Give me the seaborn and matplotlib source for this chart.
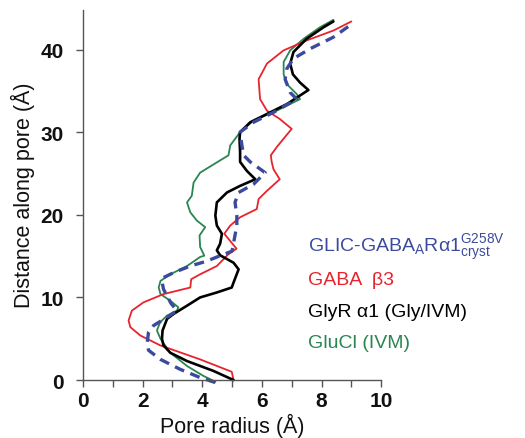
import matplotlib
matplotlib.use("Agg")
import matplotlib.pyplot as plt
import seaborn as sns
import pandas as pd

# ---- data (pore radius x, distance along pore y) ----
glic_x = [4.44, 3.93, 3.26, 2.60, 2.20, 2.15, 2.20, 2.37, 2.82, 3.15, 2.95, 2.70, 2.65, 2.70, 3.04, 3.60, 4.16, 4.60, 5.00,
          5.16, 5.16, 5.10, 5.22, 5.72, 6.11, 5.61, 5.39, 5.33, 5.27, 5.72, 6.39, 7.17, 6.95, 6.78, 6.84, 7.06, 7.62, 8.40, 9.02]
glic_y = [-0.3, 0.3, 1.3, 2.5, 3.6, 4.4, 5.8, 6.6, 7.6, 8.4, 9.3, 11.0, 12.0, 12.4, 13.0, 13.8, 14.4, 15.05, 15.6,
          18.7, 19.9, 21.5, 22.7, 23.7, 25.1, 26.4, 27.2, 28.4, 30.0, 31.2, 32.4, 34.0, 34.8, 36.4, 37.7, 38.9, 40.1, 41.5, 43.1]

gaba_x = [5.05, 4.99, 3.93, 2.59, 1.92, 1.59, 1.53, 1.64, 2.03, 2.70, 3.60, 3.63, 3.93, 4.49, 4.87, 5.15, 4.74, 4.94, 5.27,
          5.83, 5.89, 6.17, 6.60, 6.39, 6.33, 6.30, 6.50, 7.00, 6.60, 6.17, 5.94, 5.89, 6.17, 6.73, 7.50, 8.40, 9.00]
gaba_y = [0.0, 1.0, 2.5, 4.2, 5.4, 6.4, 7.2, 8.4, 9.4, 10.4, 11.2, 12.2, 12.8, 13.8, 15.2, 15.9, 17.7, 18.7, 19.7,
          20.7, 21.9, 22.9, 24.3, 25.5, 26.4, 27.2, 28.2, 30.4, 31.6, 32.6, 34.0, 36.4, 38.3, 39.9, 41.1, 42.3, 43.4]

glyr_x = [5.05, 4.38, 3.49, 2.93, 2.70, 2.65, 2.67, 2.82, 3.04, 3.49, 3.93, 4.49, 4.99, 5.05, 5.22, 5.05, 4.60, 4.49, 4.60,
          4.66, 4.49, 4.44, 4.49, 4.83, 5.27, 5.78, 5.50, 5.27, 5.27, 5.25, 5.27, 5.61, 6.17, 6.84, 7.56, 7.28, 7.04, 6.95,
          7.06, 7.50, 8.07, 8.40]
glyr_y = [0.0, 1.1, 2.3, 3.3, 4.2, 5.0, 6.0, 7.4, 8.0, 9.0, 10.0, 10.6, 11.2, 11.8, 13.4, 14.2, 15.1, 15.7, 16.5,
          17.7, 18.7, 19.9, 21.5, 22.7, 23.5, 24.3, 25.3, 26.4, 27.6, 29.2, 30.0, 31.2, 32.2, 33.4, 35.1, 36.0, 37.0, 38.3,
          39.7, 41.3, 42.7, 43.4]

glucl_x = [4.44, 4.04, 3.49, 2.93, 2.60, 2.48, 2.59, 2.82, 3.15, 3.20, 2.93, 2.60, 2.54, 2.60, 2.93, 3.49, 3.93, 4.07,
           3.93, 3.91, 4.10, 3.82, 3.60, 3.49, 3.65, 3.71, 3.93, 4.38, 4.88, 4.94, 5.27, 5.72, 6.50, 7.28, 7.17, 6.84,
           6.73, 6.73, 6.95, 7.40, 7.95, 8.40]
glucl_y = [-0.2, 0.5, 1.7, 3.3, 5.0, 6.0, 7.0, 7.8, 8.4, 8.8, 9.6, 10.4, 11.2, 12.0, 12.8, 13.8, 14.9, 15.05,
           16.1, 17.5, 18.5, 19.3, 20.3, 21.5, 22.3, 23.9, 25.1, 26.1, 27.2, 28.4, 30.0, 31.4, 32.6, 34.0, 34.6, 35.8,
           37.0, 38.5, 39.9, 41.3, 42.7, 43.6]

x_ticks = [0, 2, 4, 6, 8, 10]
y_ticks = [0, 10, 20, 30, 40]

sns.set_theme(style="white")
plt.rcParams['font.family'] = ['Liberation Sans', 'DejaVu Sans']
plt.rcParams['mathtext.fontset'] = 'custom'
plt.rcParams['mathtext.rm'] = 'Liberation Sans'
plt.rcParams['mathtext.it'] = 'Liberation Sans'
plt.rcParams['text.color'] = '#111111'
plt.rcParams['axes.labelcolor'] = '#111111'
plt.rcParams['xtick.color'] = '#111111'
plt.rcParams['ytick.color'] = '#111111'

fig = plt.figure(figsize=(5.25, 4.39), dpi=100)
ax = fig.add_axes([0.158, 0.132, 0.568, 0.847])

blue = '#3C4A9E'
red = '#E8232D'
green = '#2A8550'

sns.lineplot(x=glucl_x, y=glucl_y, sort=False, estimator=None, color=green, lw=1.3, ax=ax, clip_on=False)
sns.lineplot(x=gaba_x, y=gaba_y, sort=False, estimator=None, color=red, lw=1.3, ax=ax, clip_on=False)
sns.lineplot(x=glyr_x, y=glyr_y, sort=False, estimator=None, color='black', lw=1.9, ax=ax, clip_on=False)
sns.lineplot(x=glic_x, y=glic_y, sort=False, estimator=None, color=blue, lw=2.4, ax=ax, clip_on=False,
             dashes=False)
ax.lines[-1].set_dashes([3.0, 2.0])

ax.set_xlim(0, 10)
ax.set_ylim(0, 45)
ax.set_xticks(x_ticks)
ax.set_xticks(range(0, 11), minor=True)
ax.set_yticks(y_ticks)
ax.set_xticklabels([str(t) for t in x_ticks], fontsize=15, fontweight='bold')
ax.set_yticklabels([str(t) for t in y_ticks], fontsize=15, fontweight='bold')
ax.tick_params(axis='both', which='both', direction='out', length=5, width=1, color='#555555',
               bottom=True, left=True, pad=3)
ax.tick_params(axis='y', pad=9)

for s in ['top', 'right']:
    ax.spines[s].set_visible(False)
for s in ['left', 'bottom']:
    ax.spines[s].set_color('#555555')
    ax.spines[s].set_linewidth(1.0)
ax.spines['left'].set_bounds(0, 44.8)

ax.set_xlabel('Pore radius (Å)', fontsize=15.5, labelpad=2)
ax.set_ylabel('Distance along pore (Å)', fontsize=15.5, labelpad=4)

# legend as coloured texts
fig.text(0.587, 0.435, r'GLIC-GABA$_\mathregular{A}$Rα1$^\mathregular{G258V}_\mathregular{cryst}$',
         color=blue, fontsize=14, va='center')
fig.text(0.587, 0.362, 'GABA  β3', color=red, fontsize=14, va='center')
fig.text(0.587, 0.289, 'GlyR α1 (Gly/IVM)', color='black', fontsize=14, va='center')
fig.text(0.587, 0.218, 'GluCl (IVM)', color=green, fontsize=14, va='center')

fig.savefig('out.png', dpi=100)
